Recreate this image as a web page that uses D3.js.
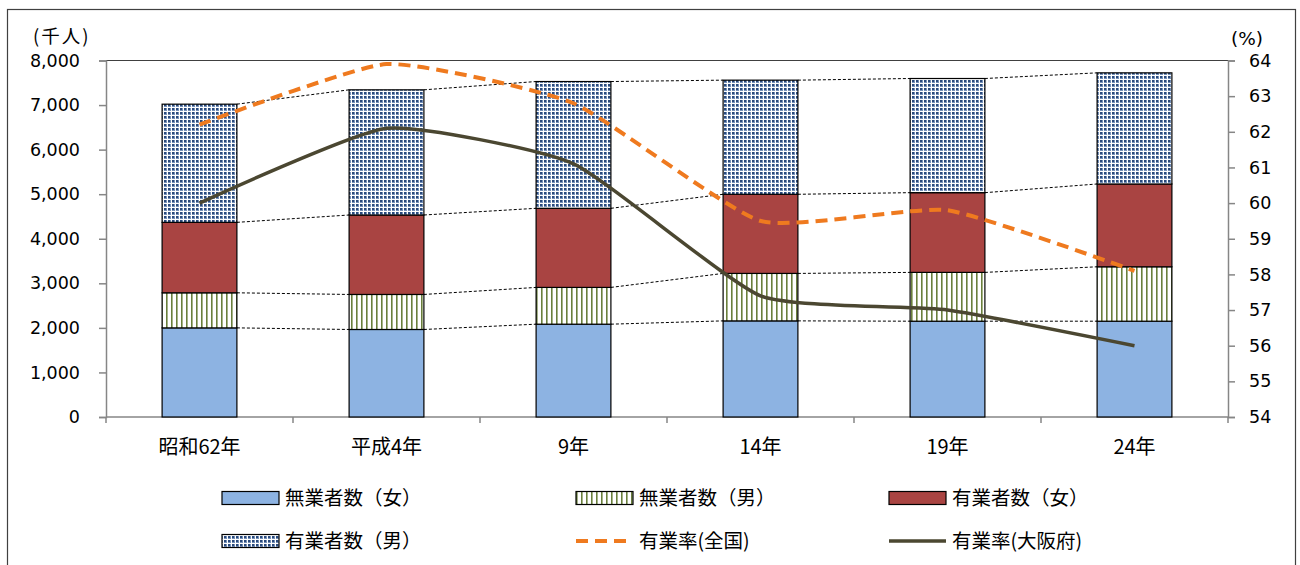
<!DOCTYPE html>
<html>
<head>
<meta charset="utf-8">
<script src="https://cdn.jsdelivr.net/npm/d3@7"></script>
<style>
  body { margin: 0; background: #fff; }
  text { fill: #000; }
</style>
</head>
<body>
<div id="chart"></div>
<script>
// data
const years = ["昭和62年", "平成4年", "9年", "14年", "19年", "24年"];
const mugyoF = [2000, 1964, 2083, 2157, 2150, 2150];   // 無業者数(女)
const mugyoM = [787, 786, 825, 1065, 1095, 1221];      // 無業者数(男)
const yugyoF = [1581, 1783, 1775, 1776, 1789, 1858];   // 有業者数(女)
const yugyoM = [2652, 2809, 2845, 2561, 2562, 2494];   // 有業者数(男)
const rateJapan = [62.2, 63.9, 62.8, 59.5, 59.8, 58.1];
const rateOsaka = [60.0, 62.1, 61.1, 57.4, 57.0, 56.0];
const leftTicks = [0, 1000, 2000, 3000, 4000, 5000, 6000, 7000, 8000];
const rightTicks = [54, 55, 56, 57, 58, 59, 60, 61, 62, 63, 64];

const keys = ["mugyoF", "mugyoM", "yugyoF", "yugyoM"];
const labels = {
  mugyoF: "無業者数（女）", mugyoM: "無業者数（男）",
  yugyoF: "有業者数（女）", yugyoM: "有業者数（男）"
};
const rows = years.map((y, i) => ({
  year: y, mugyoF: mugyoF[i], mugyoM: mugyoM[i], yugyoF: yugyoF[i], yugyoM: yugyoM[i]
}));

const width = 1300, height = 565;
const plotL = 106, plotR = 1228, plotT = 60.5, plotB = 417;

const svg = d3.select("#chart").append("svg")
  .attr("width", width)
  .attr("height", height);

// patterns
const defs = svg.append("defs");
const stripes = defs.append("pattern")
  .attr("id", "stripes")
  .attr("patternUnits", "userSpaceOnUse")
  .attr("width", 5).attr("height", 5);
stripes.append("rect").attr("width", 5).attr("height", 5).attr("fill", "#fff");
stripes.append("rect").attr("x", 1).attr("width", 1.6).attr("height", 5).attr("fill", "#6a7f3c");

const dots = defs.append("pattern")
  .attr("id", "dots")
  .attr("patternUnits", "userSpaceOnUse")
  .attr("width", 4).attr("height", 4);
dots.append("rect").attr("width", 4).attr("height", 4).attr("fill", "#7590b8");
dots.append("rect").attr("x", 0).attr("y", 0).attr("width", 2).attr("height", 2).attr("fill", "#2a4a7c");
dots.append("rect").attr("x", 3).attr("y", 0).attr("width", 1).attr("height", 4).attr("fill", "#fff");
dots.append("rect").attr("x", 0).attr("y", 3).attr("width", 4).attr("height", 1).attr("fill", "#fff");

const fills = {
  mugyoF: "#8db3e2",
  mugyoM: "url(#stripes)",
  yugyoF: "#a94442",
  yugyoM: "url(#dots)"
};

// outer frame
svg.append("rect")
  .attr("x", 7.5).attr("y", 9.5)
  .attr("width", 1288).attr("height", 570)
  .attr("fill", "none")
  .attr("stroke", "#404040")
  .attr("stroke-width", 1.2);

const x = d3.scaleBand()
  .domain(years)
  .range([plotL, plotR])
  .paddingInner(0.6)
  .paddingOuter(0.3);
const y = d3.scaleLinear().domain([0, 8000]).range([plotB, plotT]);
const y2 = d3.scaleLinear().domain([54, 64]).range([plotB, plotT]);

// top border of plot area
svg.append("line")
  .attr("x1", plotL).attr("x2", plotR)
  .attr("y1", plotT).attr("y2", plotT)
  .attr("stroke", "#404040").attr("stroke-width", 1.2);

// axes
const numFont = "'DejaVu Sans', Verdana, sans-serif";
const jpFont = "'Noto Sans CJK JP', sans-serif";

const yAxis = svg.append("g")
  .attr("transform", `translate(${plotL},0)`)
  .call(d3.axisLeft(y).tickValues(leftTicks).tickFormat(d3.format(",")).tickSize(7).tickPadding(19));
const y2Axis = svg.append("g")
  .attr("transform", `translate(${plotR},0)`)
  .call(d3.axisRight(y2).tickValues(rightTicks).tickSize(7).tickPadding(14));
[yAxis, y2Axis].forEach(g => {
  g.select(".domain").attr("stroke", "#868686").attr("stroke-width", 1.5);
  g.selectAll(".tick line").attr("stroke", "#868686").attr("stroke-width", 1.5);
  g.selectAll("text").attr("font-family", numFont).attr("font-size", 17.5).attr("fill", "#000");
});

// x axis with boundary ticks
const step = x.step();
svg.append("line")
  .attr("x1", plotL).attr("x2", plotR)
  .attr("y1", plotB).attr("y2", plotB)
  .attr("stroke", "#868686").attr("stroke-width", 1.5);
svg.selectAll(".xtick")
  .data(d3.range(years.length + 1))
  .join("line")
  .attr("x1", i => plotL + i * step).attr("x2", i => plotL + i * step)
  .attr("y1", plotB).attr("y2", plotB + 6)
  .attr("stroke", "#868686").attr("stroke-width", 1.5);
svg.selectAll(".xlabel")
  .data(years)
  .join("text")
  .attr("x", d => x(d) + x.bandwidth() / 2)
  .attr("y", 454)
  .attr("text-anchor", "middle")
  .attr("font-family", jpFont)
  .attr("font-size", 20)
  .text(d => d);

// unit labels
svg.append("text").attr("x", 33).attr("y", 43)
  .attr("font-family", jpFont).attr("font-size", 18.5)
  .attr("letter-spacing", 2).text("(千人)");
svg.append("text").attr("x", 1231).attr("y", 45)
  .attr("font-family", numFont).attr("font-size", 18.5).text("(%)");

// stacked bars
const stacked = d3.stack().keys(keys)(rows);

// series lines between bars
stacked.forEach(layer => {
  const segs = d3.pairs(layer);
  svg.selectAll(null)
    .data(segs)
    .join("line")
    .attr("x1", d => x(d[0].data.year) + x.bandwidth())
    .attr("x2", d => x(d[1].data.year))
    .attr("y1", d => y(d[0][1]))
    .attr("y2", d => y(d[1][1]))
    .attr("stroke", "#000")
    .attr("stroke-width", 1)
    .attr("stroke-dasharray", "3,2");
});

svg.append("g")
  .selectAll("g")
  .data(stacked)
  .join("g")
  .attr("fill", d => fills[d.key])
  .selectAll("rect")
  .data(d => d)
  .join("rect")
  .attr("x", d => x(d.data.year))
  .attr("y", d => y(d[1]))
  .attr("width", x.bandwidth())
  .attr("height", d => y(d[0]) - y(d[1]))
  .attr("stroke", "#000")
  .attr("stroke-width", 1.2);

// rate lines
const rateLine = d3.line()
  .x((d, i) => x(years[i]) + x.bandwidth() / 2)
  .y(d => y2(d))
  .curve(d3.curveCardinal.tension(0.5));

svg.append("path")
  .attr("d", rateLine(rateJapan))
  .attr("fill", "none")
  .attr("stroke", "#ef7a1f")
  .attr("stroke-width", 4)
  .attr("stroke-dasharray", "12,7");

svg.append("path")
  .attr("d", rateLine(rateOsaka))
  .attr("fill", "none")
  .attr("stroke", "#4b4731")
  .attr("stroke-width", 3.5);

// legend
const legendItems = [
  { kind: "box", key: "mugyoF", x: 222, y: 498 },
  { kind: "box", key: "mugyoM", x: 576, y: 498 },
  { kind: "box", key: "yugyoF", x: 889, y: 498 },
  { kind: "box", key: "yugyoM", x: 222, y: 541 },
  { kind: "dash", label: "有業率(全国)", x: 576, y: 541 },
  { kind: "solid", label: "有業率(大阪府)", x: 889, y: 541 }
];
const lg = svg.append("g");
legendItems.forEach(it => {
  const g = lg.append("g");
  if (it.kind === "box") {
    g.append("rect")
      .attr("x", it.x).attr("y", it.y - 6.5)
      .attr("width", 57).attr("height", 13)
      .attr("fill", fills[it.key])
      .attr("stroke", "#000").attr("stroke-width", 1.2);
  } else {
    g.append("line")
      .attr("x1", it.x).attr("x2", it.x + 57)
      .attr("y1", it.y).attr("y2", it.y)
      .attr("stroke", it.kind === "dash" ? "#ef7a1f" : "#4b4731")
      .attr("stroke-width", it.kind === "dash" ? 4 : 3.5)
      .attr("stroke-dasharray", it.kind === "dash" ? "12,7" : null);
  }
  g.append("text")
    .attr("x", it.x + 63)
    .attr("y", it.y + 7)
    .attr("font-family", jpFont)
    .attr("font-size", 19.5)
    .text(it.label || labels[it.key]);
});
</script>
</body>
</html>
